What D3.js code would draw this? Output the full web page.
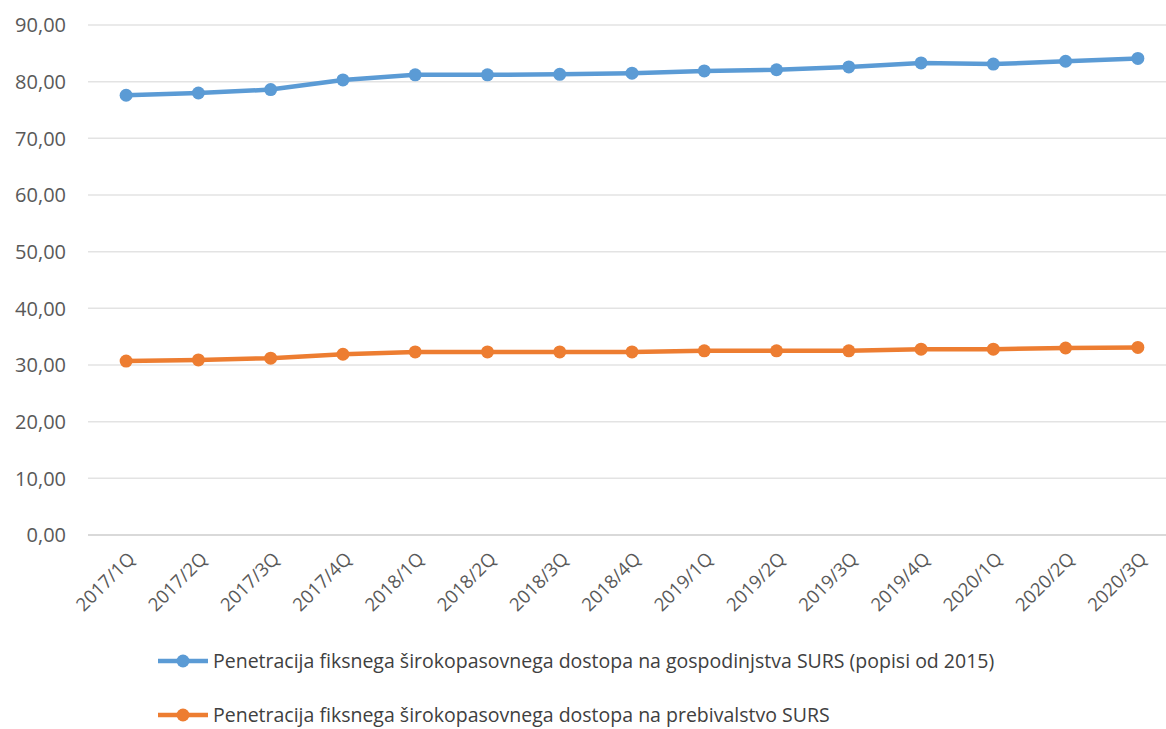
<!DOCTYPE html>
<html><head><meta charset="utf-8">
<script src="https://cdn.jsdelivr.net/npm/d3@7"></script>
<style>body{margin:0;background:#fff;} svg{display:block;}</style>
</head><body>
<svg id="c" width="1166" height="729"></svg>
<script>
const categories = ["2017/1Q","2017/2Q","2017/3Q","2017/4Q","2018/1Q","2018/2Q","2018/3Q","2018/4Q","2019/1Q","2019/2Q","2019/3Q","2019/4Q","2020/1Q","2020/2Q","2020/3Q"];
const households = [77.6,78.0,78.6,80.3,81.2,81.2,81.3,81.5,81.9,82.1,82.6,83.3,83.1,83.6,84.1];
const population = [30.7,30.9,31.2,31.9,32.3,32.3,32.3,32.3,32.5,32.5,32.5,32.8,32.8,33.0,33.1];
const yTicks = [0,10,20,30,40,50,60,70,80,90];
const seriesNames = ["Penetracija fiksnega širokopasovnega dostopa na gospodinjstva SURS (popisi od 2015)","Penetracija fiksnega širokopasovnega dostopa na prebivalstvo SURS"];
const colors = ["#5B9BD5","#ED7D31"];

const svg = d3.select("#c");
const font = "'Open Sans', sans-serif";
const x = d3.scalePoint().domain(categories).range([90,1174]).padding(0.5);
const y = d3.scaleLinear().domain([0,90]).range([535,25]);

// gridlines
svg.append("g").selectAll("line").data(yTicks).join("line")
  .attr("x1",88).attr("x2",1166)
  .attr("y1",d=>y(d)).attr("y2",d=>y(d))
  .attr("stroke",d=>d===0?"#d9d9d9":"#e3e3e3").attr("stroke-width",d=>d===0?2:1.5);

// y labels
const fmt = d=>d3.format(".2f")(d).replace(".",",");
svg.append("g").selectAll("text").data(yTicks).join("text")
  .attr("x",66).attr("y",d=>y(d)).attr("dy","0.36em")
  .attr("text-anchor","end").attr("font-family",font).attr("font-size",20)
  .attr("fill","#595959").text(fmt);

// x labels
svg.append("g").selectAll("text").data(categories).join("text")
  .attr("transform",d=>`translate(${x(d)+10},${560}) rotate(-45)`)
  .attr("text-anchor","end").attr("font-family",font).attr("font-size",18.5)
  .attr("fill","#595959").text(d=>d);

const series = [households, population];
const line = d3.line().x((d,i)=>x(categories[i])).y(d=>y(d));
series.forEach((s,k)=>{
  svg.append("path").datum(s).attr("d",line).attr("fill","none")
    .attr("stroke",colors[k]).attr("stroke-width",4.5).attr("stroke-linejoin","round");
  svg.append("g").selectAll("circle").data(s).join("circle")
    .attr("cx",(d,i)=>x(categories[i])).attr("cy",d=>y(d)).attr("r",6.5)
    .attr("fill",colors[k]);
});

// legend
const ly = [661,715];
seriesNames.forEach((n,k)=>{
  const g = svg.append("g");
  g.append("line").attr("x1",158).attr("x2",208).attr("y1",ly[k]).attr("y2",ly[k])
    .attr("stroke",colors[k]).attr("stroke-width",4.5);
  g.append("circle").attr("cx",183).attr("cy",ly[k]).attr("r",6.5).attr("fill",colors[k]);
  g.append("text").attr("x",213).attr("y",ly[k]).attr("dy","0.35em")
    .attr("font-family",font).attr("font-size",19.5).attr("fill","#404040").text(n);
});
</script>
</body></html>
